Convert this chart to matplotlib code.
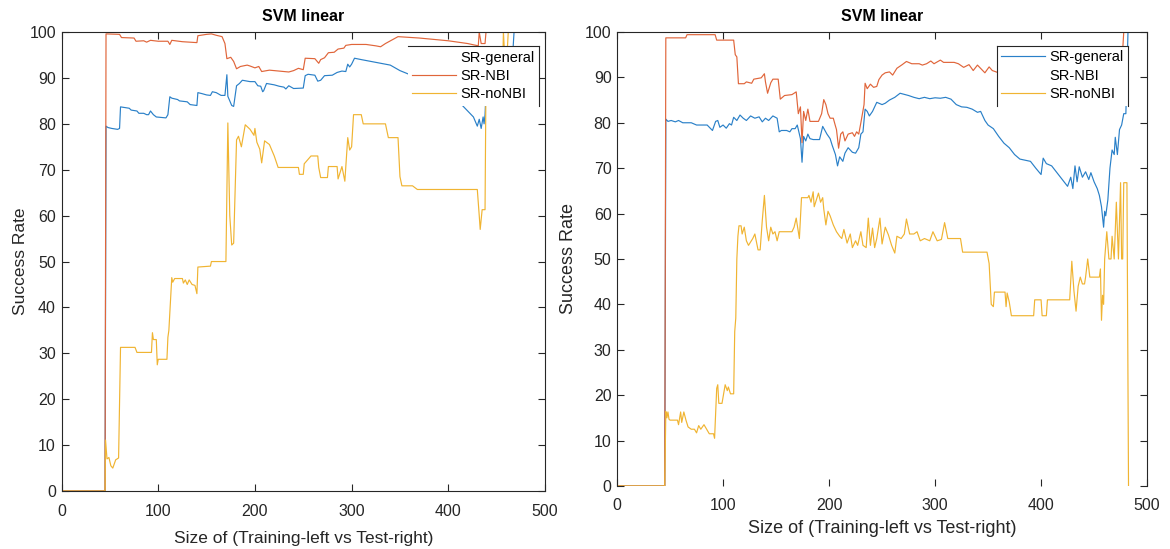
import numpy as np
import matplotlib
matplotlib.use("Agg")
import matplotlib.pyplot as plt
from matplotlib.lines import Line2D

plt.rcParams['font.family'] = ['Liberation Sans', 'DejaVu Sans']

labels = ["SR-general", "SR-NBI", "SR-noNBI"]
colors = ["#2a80c8", "#e0653a", "#f0b432"]

# ---- left panel (x, success rate) ----
gen_left = [(0, 0), (45, 0), (46, 79.5), (48, 79.2), (52, 79.0), (58, 78.8), (60, 79.0), (61, 83.7), (70, 83.4),
            (72, 83.0), (78, 82.8), (80, 82.3), (85, 82.3), (88, 82.0), (90, 82.0), (92, 82.8), (95, 82.0), (98, 81.5),
            (108, 81.3), (110, 82.0), (112, 85.9), (114, 85.6), (120, 85.3), (122, 85.0), (130, 84.8), (133, 84.2),
            (140, 84.0), (141, 86.8), (145, 86.6), (150, 86.3), (154, 86.2), (156, 87.0), (160, 86.8), (165, 86.2),
            (169, 86.2), (171, 90.7), (172, 86.0), (174, 85.0), (176, 84.0), (178, 83.8), (181, 88.3), (184, 88.8),
            (187, 89.5), (195, 89.2), (200, 89.2), (203, 88.3), (206, 88.2), (208, 87.0), (209, 87.2), (212, 88.8),
            (220, 88.5), (225, 88.2), (230, 88.0), (232, 87.6), (235, 88.3), (240, 87.7), (250, 87.8), (252, 90.5),
            (255, 90.8), (262, 90.6), (265, 89.3), (268, 89.5), (272, 90.5), (280, 90.6), (285, 91.2), (290, 91.5),
            (294, 91.4), (296, 93.0), (298, 92.4), (300, 93.0), (303, 94.3), (310, 94.0), (320, 93.6), (330, 93.2),
            (340, 92.8), (345, 92.2), (350, 91.6), (357, 91.0), (380, 89.0), (410, 85.0), (426, 81.5), (428, 80.5),
            (430, 79.5), (432, 81.0), (434, 79.0), (436, 81.5), (437, 80.0), (438, 82.0), (440, 92.0), (466, 93.0),
            (468, 100), (500, 100)]
nbi_left = [(0, 0), (45, 0), (46, 99.6), (60, 99.5), (62, 98.8), (75, 98.7), (77, 98.0), (85, 98.1), (88, 97.8),
            (92, 98.2), (100, 98.0), (110, 98.0), (112, 97.3), (114, 98.2), (125, 97.9), (140, 97.7), (141, 99.2),
            (150, 99.5), (155, 99.6), (160, 99.3), (166, 99.0), (169, 97.5), (171, 94.2), (175, 94.5), (178, 93.6),
            (181, 92.0), (185, 92.5), (192, 92.8), (195, 92.6), (200, 92.2), (204, 92.5), (207, 91.4), (215, 91.7),
            (225, 91.5), (235, 91.3), (240, 91.6), (245, 92.1), (250, 91.8), (252, 94.3), (262, 94.2), (266, 93.2),
            (268, 94.0), (272, 94.4), (276, 95.5), (282, 95.6), (286, 96.3), (292, 96.5), (294, 97.1), (300, 97.3),
            (315, 97.3), (325, 97.0), (330, 96.8), (335, 97.5), (348, 99.0), (370, 98.7), (400, 98.1), (420, 97.5),
            (431, 97.0), (432, 100), (434, 97.5), (438, 97.5), (439, 100), (500, 100)]
nonbi_left = [(0, 0), (45, 0), (45.5, 11.1), (47, 7.0), (49, 7.3), (51, 5.5), (53, 5.0), (56, 6.8), (59, 7.2),
              (61, 31.3), (76, 31.3), (78, 30.2), (93, 30.2), (94, 34.5), (95, 33.0), (98, 33.0), (99, 27.5),
              (100, 28.7), (109, 28.7), (110, 33.5), (111, 35.0), (114, 46.5), (115, 45.5), (117, 46.3), (125, 46.3),
              (126, 45.3), (128, 46.0), (130, 45.0), (132, 46.0), (135, 45.0), (138, 44.8), (140, 43.0), (141, 48.8),
              (154, 49.0), (155, 50.0), (170, 50.0), (172, 80.2), (174, 60.0), (176, 53.6), (178, 54.0), (181, 76.5),
              (183, 77.3), (186, 75.0), (190, 79.8), (195, 78.8), (199, 77.5), (200, 79.0), (202, 76.0), (205, 74.5),
              (207, 71.5), (210, 76.3), (215, 75.5), (220, 73.0), (224, 70.5), (245, 70.5), (246, 69.0), (250, 69.0),
              (251, 71.3), (258, 73.0), (265, 73.0), (266, 70.5), (268, 68.3), (275, 68.3), (276, 70.7), (285, 70.7),
              (286, 68.0), (290, 70.7), (293, 67.5), (296, 77.0), (298, 74.3), (300, 75.0), (302, 82.0), (310, 82.0),
              (312, 80.0), (335, 80.0), (338, 77.0), (348, 77.0), (350, 68.5), (352, 66.5), (363, 66.5), (368, 65.7),
              (430, 65.7), (432, 60.0), (433, 57.0), (435, 61.3), (438, 61.3), (439, 90), (456, 90), (457, 100),
              (458, 96), (461, 96), (462, 100), (500, 100)]

# ---- right panel ----
gen_right = [(0, 0), (45, 0), (46, 80.8), (48, 80.3), (51, 80.5), (55, 80.2), (58, 80.5), (62, 80.0), (70, 80.0),
             (75, 79.5), (85, 79.5), (88, 78.8), (90, 78.3), (93, 80.3), (95, 80.5), (97, 79.0), (100, 79.5),
             (103, 78.8), (106, 79.8), (108, 79.5), (110, 81.2), (113, 80.5), (116, 81.7), (119, 81.0), (122, 80.5),
             (126, 81.5), (130, 81.0), (134, 81.3), (137, 80.2), (140, 81.0), (143, 80.5), (147, 81.5), (151, 81.0),
             (153, 78.0), (155, 78.3), (160, 78.3), (163, 78.0), (165, 78.7), (168, 78.7), (170, 79.5), (172, 77.5),
             (173, 76.5), (174.5, 71.3), (176, 77.0), (178, 76.0), (180, 77.5), (182, 76.5), (185, 76.3), (191, 76.3),
             (194, 79.2), (198, 77.5), (201, 76.5), (203, 75.0), (206, 73.0), (208, 70.5), (210, 72.5), (213, 71.5),
             (215, 73.3), (218, 74.5), (222, 73.5), (225, 73.3), (228, 74.5), (230, 77.5), (232, 78.0), (234, 83.0),
             (236, 82.5), (238, 81.5), (241, 82.5), (245, 84.5), (250, 84.0), (253, 84.3), (257, 85.0), (262, 85.6),
             (267, 86.5), (275, 86.0), (280, 85.6), (285, 85.3), (290, 85.6), (295, 85.3), (300, 85.5), (305, 85.4),
             (310, 85.6), (315, 85.2), (320, 84.0), (325, 83.5), (330, 83.4), (335, 83.0), (340, 82.3), (343, 82.5),
             (347, 80.5), (350, 79.5), (355, 78.7), (360, 77.0), (365, 75.5), (370, 74.5), (375, 73.0), (380, 72.0),
             (390, 71.5), (395, 70.0), (400, 68.6), (402, 72.2), (405, 71.0), (410, 70.5), (415, 69.0), (420, 67.5),
             (425, 66.0), (428, 68.0), (430, 65.5), (432, 70.5), (434, 67.0), (436, 70.3), (439, 68.0), (442, 69.2),
             (445, 67.5), (447, 69.0), (450, 67.0), (453, 65.5), (455, 64.0), (457, 61.5), (459, 57.0), (460, 60.5),
             (461, 59.5), (463, 63.0), (465, 70.0), (467, 74.0), (469, 73.0), (470, 76.8), (472, 73.0), (474, 78.5),
             (476, 79.5), (478, 82.0), (480, 82.0), (482, 100), (493, 100)]
nbi_right = [(0, 0), (45, 0), (46, 98.7), (64.7, 98.7), (66, 99.4), (92.5, 99.4), (94, 98.2), (110, 98.2),
             (111.5, 95.0), (113, 94.5), (114.5, 88.6), (120, 88.6), (122, 89.0), (127, 88.7), (129, 89.6),
             (136, 89.9), (139, 90.8), (140, 89.0), (142, 86.5), (145, 88.8), (147, 89.6), (152, 89.6), (154, 85.2),
             (158, 86.0), (165, 86.2), (169, 86.8), (171, 82.0), (173, 83.5), (174.5, 75.6), (176, 82.5), (178, 80.5),
             (180, 83.0), (182, 80.3), (190, 80.3), (193, 82.0), (195, 85.1), (197, 84.0), (199, 82.0), (201, 81.0),
             (204, 81.0), (206, 79.3), (207, 78.5), (209, 74.4), (211, 77.5), (213, 78.0), (215, 76.0), (218, 77.5),
             (222, 77.8), (224, 77.0), (226, 78.0), (228, 77.5), (230, 80.0), (233, 84.0), (234, 88.7), (236, 87.5),
             (239, 88.5), (242, 87.8), (245, 88.0), (247, 89.5), (250, 90.5), (253, 91.0), (257, 91.2), (260, 90.5),
             (264, 92.0), (269, 92.8), (273, 93.5), (278, 93.0), (285, 93.0), (288, 92.7), (292, 93.0), (296, 93.6),
             (299, 93.0), (305, 93.8), (308, 93.3), (318, 93.3), (322, 93.0), (327, 92.2), (332, 92.8), (336, 91.5),
             (340, 92.7), (347, 91.0), (351, 92.3), (354, 91.5), (360, 91.0), (400, 90.0), (450, 89.0), (476, 92.0),
             (478, 100), (493, 100)]
nonbi_right = [(0, 0), (45, 0), (46, 16.4), (47, 15.0), (48, 16.3), (49, 14.7), (50, 14.5), (57, 14.5), (58, 13.5),
               (60, 16.3), (61, 14.0), (63, 16.3), (65, 14.5), (67, 13.0), (70, 12.5), (73, 12.5), (75, 11.7),
               (77, 13.3), (79, 12.5), (82, 13.5), (85, 12.3), (87, 11.5), (91, 11.5), (92, 10.5), (94, 21.5),
               (95, 22.3), (96, 18.2), (99, 18.2), (102, 22.3), (104, 21.0), (105, 21.8), (107, 20.3), (110, 20.3),
               (111, 34.0), (112, 37.0), (113, 50.0), (114, 55.0), (115, 57.3), (117, 57.3), (118, 55.5), (120, 57.0),
               (122, 54.0), (124, 53.0), (128, 54.5), (130, 55.5), (133, 52.0), (135, 52.0), (137, 58.5), (139, 64.0),
               (141, 57.0), (143, 54.0), (145, 57.0), (147, 55.5), (149, 56.0), (151, 54.0), (153, 56.0), (165, 56.0),
               (167, 57.0), (169, 59.0), (172, 54.5), (174, 63.5), (180, 63.5), (181, 64.0), (183, 62.5), (185, 64.8),
               (186, 61.5), (188, 63.0), (190, 64.5), (192, 62.5), (194, 63.5), (195, 61.0), (197, 57.5), (199, 60.5),
               (201, 59.5), (204, 57.5), (207, 56.0), (210, 55.0), (212, 54.5), (214, 56.5), (217, 53.5), (220, 55.5),
               (222, 52.5), (225, 54.0), (227, 53.0), (230, 56.0), (232, 53.0), (235, 52.5), (237, 59.0), (239, 53.0),
               (241, 56.8), (243, 52.5), (245, 54.5), (248, 59.0), (250, 53.3), (253, 57.0), (256, 55.3), (259, 53.0),
               (262, 51.3), (264, 55.0), (268, 54.5), (271, 55.5), (273, 58.8), (276, 55.5), (280, 55.5), (283, 56.0),
               (286, 54.0), (290, 54.5), (295, 54.0), (298, 56.0), (302, 54.0), (306, 54.3), (309, 58.0), (312, 54.5),
               (324, 54.5), (326, 51.5), (349, 51.5), (351, 49.0), (353, 40.0), (355, 39.5), (356, 42.7), (366, 42.7),
               (367, 39.5), (368, 42.5), (370, 40.5), (372, 37.5), (393, 37.5), (394, 41.0), (400, 41.0), (401, 37.5),
               (405, 37.5), (406, 41.0), (427, 41.0), (429, 49.5), (431, 43.0), (433, 38.5), (435, 44.0), (437, 46.0),
               (439, 44.5), (441, 44.5), (442, 46.0), (444, 50.0), (446, 46.0), (455, 46.0), (456, 47.8), (457, 36.5),
               (458, 42.0), (459, 40.0), (460, 50.0), (462, 56.0), (464, 50.0), (466, 50.0), (467, 55.0), (469, 50.0),
               (471, 62.5), (473, 50.0), (475, 66.8), (476, 50.0), (477, 50.0), (478, 66.8), (481, 66.8), (482.5, 0)]

xticks = [0, 100, 200, 300, 400, 500]
yticks = list(range(0, 101, 10))
dark = "#262626"

fig = plt.figure(figsize=(11.7, 5.49), dpi=100)
axL = fig.add_axes([0.0526, 0.1056, 0.4132, 0.836])
axR = fig.add_axes([0.5274, 0.1148, 0.4530, 0.827])


def panel(ax, series, hide_handle, frame_sides, lblsize, xpad, ypad):
    for s, c, lab in zip(series, colors, labels):
        a = np.array(s).T
        ax.plot(a[0], a[1], color=c, lw=0.85, label=lab)
    ax.set_xlim(0, 500); ax.set_ylim(0, 100)
    ax.set_xticks(xticks); ax.set_yticks(yticks)
    ax.tick_params(direction="in", top=True, right=True, length=5, width=0.8,
                   labelsize=11.5, colors=dark)
    ax.tick_params(axis="x", pad=9)
    ax.tick_params(axis="y", pad=4)
    for sp in ax.spines.values():
        sp.set_color(dark); sp.set_linewidth(0.8)
    ax.set_title("SVM linear", fontsize=11.5, fontweight="bold", pad=8)
    ax.set_xlabel("Size of (Training-left vs Test-right)", fontsize=lblsize, color=dark, labelpad=xpad)
    ax.set_ylabel("Success Rate", fontsize=lblsize, color=dark, labelpad=ypad)
    leg = ax.legend(loc="upper left", bbox_to_anchor=(0.716, 0.969), borderaxespad=0, fontsize=10.5,
                    handlelength=3.0, handletextpad=0.3, labelspacing=0.3, borderpad=0.3,
                    fancybox=False, framealpha=1, edgecolor="none")
    leg.get_lines()[hide_handle].set_visible(False)
    fig.canvas.draw()
    bb = leg.get_window_extent().transformed(ax.transAxes.inverted())
    x0, y0, x1, y1 = bb.x0, bb.y0, bb.x1, bb.y1
    segs = {"top": ([x0, x1], [y1, y1]), "left": ([x0, x0], [y0, y1]),
            "right": ([x1, x1], [y0, y1]), "bottom": ([x0, x1], [y0, y0])}
    for side in frame_sides:
        xs, ys = segs[side]
        ax.add_line(Line2D(xs, ys, transform=ax.transAxes, color=dark, lw=0.8, clip_on=False, zorder=6))


panel(axL, [gen_left, nbi_left, nonbi_left], 0, ["top", "right"], 12.5, 9, 1)
panel(axR, [gen_right, nbi_right, nonbi_right], 1, ["top", "left", "right"], 13, 5, 6)
axR.spines["bottom"].set_visible(False)

fig.savefig("out.png", dpi=100)
